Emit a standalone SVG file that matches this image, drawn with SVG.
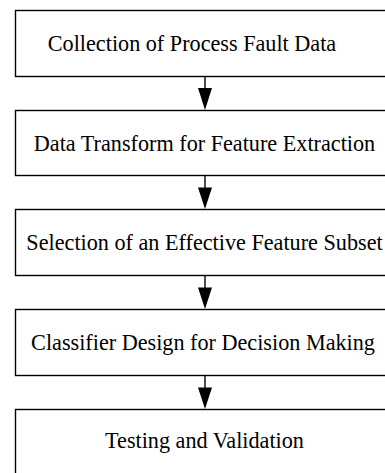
<svg xmlns="http://www.w3.org/2000/svg" width="385" height="473" viewBox="0 0 385 473">
<style>
.box{fill:#fff;stroke:#000;stroke-width:1.4}
.t{font-family:"Liberation Serif","Times New Roman",serif;font-size:22.2px;fill:#000;text-anchor:middle}
.c{stroke:#000;stroke-width:1.4;fill:none}
.h{fill:#000}
</style>
<rect width="385" height="473" fill="#fff"/>
<g id="n1"><rect class="box" x="15.5" y="10.5" width="380" height="66"/><text class="t" x="192" y="51">Collection of Process Fault Data</text></g>
<g id="n2"><rect class="box" x="15.5" y="110.5" width="380" height="65"/><text class="t" x="204.5" y="151">Data Transform for Feature Extraction</text></g>
<g id="n3"><rect class="box" x="15.5" y="209.5" width="380" height="66"/><text class="t" x="204.5" y="250">Selection of an Effective Feature Subset</text></g>
<g id="n4"><rect class="box" x="15.5" y="309.5" width="380" height="66"/><text class="t" x="203" y="350">Classifier Design for Decision Making</text></g>
<g id="n5"><rect class="box" x="15.5" y="409.5" width="380" height="80"/><text class="t" x="204.5" y="448">Testing and Validation</text></g>
<g id="connectors">
<path class="c" d="M205,76.5 V88"/><path class="h" d="M198,88 L212,88 L205,110 Z"/>
<path class="c" d="M205,175.5 V188"/><path class="h" d="M198,187.5 L212,187.5 L205,209 Z"/>
<path class="c" d="M205,275.5 V288"/><path class="h" d="M198,287.5 L212,287.5 L205,309 Z"/>
<path class="c" d="M205,375.5 V388"/><path class="h" d="M198,387.5 L212,387.5 L205,409 Z"/>
</g>
</svg>
